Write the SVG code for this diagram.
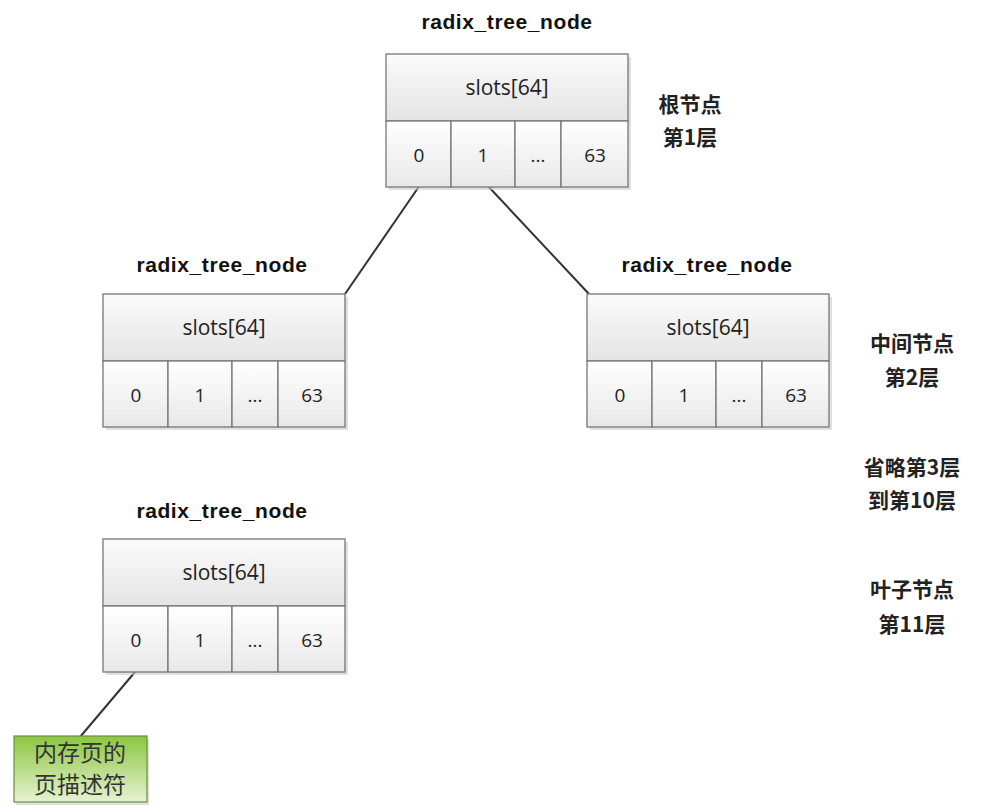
<svg xmlns="http://www.w3.org/2000/svg" width="985" height="812" viewBox="0 0 985 812">
<style>
.title{font-family:"Liberation Sans","Noto Sans CJK SC",sans-serif;font-weight:bold;font-size:21px;letter-spacing:0.6px;fill:#111;text-anchor:middle}
.t{font-family:"Open Sans","Liberation Sans",sans-serif;font-size:19px;fill:#222;text-anchor:middle;dominant-baseline:central}
.s{font-size:21px}
.lbl{font-family:"Noto Sans CJK SC",sans-serif;font-size:21px;fill:#222;text-anchor:middle;font-weight:bold}
.cell{fill:url(#gc);stroke:#777;stroke-width:1.3}
.hdr{fill:url(#gh);stroke:#777;stroke-width:1.3}
.sh{fill:#ccc;opacity:.6}
.conn line{stroke:#333;stroke-width:2}
</style>
<defs>
<linearGradient id="gh" x1="0" y1="0" x2="0" y2="1"><stop offset="0" stop-color="#fbfbfb"/><stop offset="1" stop-color="#e4e4e4"/></linearGradient>
<linearGradient id="gc" x1="0" y1="0" x2="0" y2="1"><stop offset="0" stop-color="#ffffff"/><stop offset="1" stop-color="#e8e8e8"/></linearGradient>
<linearGradient id="gg" x1="0" y1="0" x2="0" y2="1"><stop offset="0" stop-color="#8cc63f"/><stop offset="1" stop-color="#e6f2d2"/></linearGradient>
<g id="node">
<rect class="sh" x="3" y="3" width="242" height="133"/>
<rect class="hdr" x="0" y="0" width="242" height="67"/>
<rect class="cell" x="0" y="67" width="65" height="66"/>
<rect class="cell" x="65" y="67" width="64" height="66"/>
<rect class="cell" x="129" y="67" width="46" height="66"/>
<rect class="cell" x="175" y="67" width="67" height="66"/>
<text class="t s" x="121" y="33">slots[64]</text>
<text class="t" x="33" y="101">0</text>
<text class="t" x="97" y="101">1</text>
<text class="t" x="152" y="101">...</text>
<text class="t" x="209" y="101">63</text>
</g>
</defs>
<rect width="985" height="812" fill="#fff"/>
<g class="conn" id="connectors">
<line x1="420" y1="185" x2="345" y2="294"/>
<line x1="487" y1="185" x2="589" y2="294"/>
<line x1="135" y1="672" x2="80" y2="737"/>
</g>
<g id="root"><text class="title" x="507" y="29">radix_tree_node</text><use href="#node" x="386" y="54"/></g>
<g id="midL"><text class="title" x="222" y="272">radix_tree_node</text><use href="#node" x="103" y="294"/></g>
<g id="midR"><text class="title" x="707" y="272">radix_tree_node</text><use href="#node" x="587" y="294"/></g>
<g id="leaf"><text class="title" x="222" y="518">radix_tree_node</text><use href="#node" x="103" y="539"/></g>
<g id="page">
<rect x="16" y="739" width="133" height="66" fill="#ccc" opacity=".6"/>
<rect x="14" y="736" width="133" height="66" fill="url(#gg)" stroke="#6a8f3a" stroke-width="1.2"/>
<text x="80" y="761" font-family="Noto Sans CJK SC,sans-serif" font-size="23" fill="#333" text-anchor="middle">内存页的</text>
<text x="80" y="793" font-family="Noto Sans CJK SC,sans-serif" font-size="23" fill="#333" text-anchor="middle">页描述符</text>
</g>
<g id="labels">
<text class="lbl" x="690" y="112">根节点</text>
<text class="lbl" x="690" y="145">第1层</text>
<text class="lbl" x="912" y="351">中间节点</text>
<text class="lbl" x="912" y="385">第2层</text>
<text class="lbl" x="912" y="475">省略第3层</text>
<text class="lbl" x="912" y="508">到第10层</text>
<text class="lbl" x="912" y="597">叶子节点</text>
<text class="lbl" x="912" y="632">第11层</text>
</g>
</svg>
